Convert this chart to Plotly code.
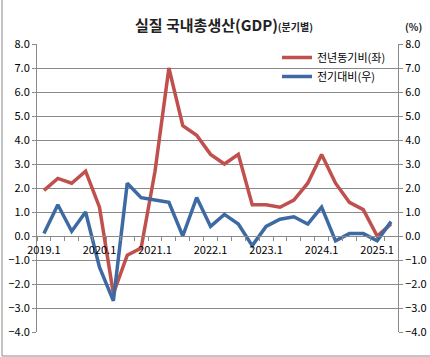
import plotly.graph_objects as go

quarters = ["2019.1", "2019.2", "2019.3", "2019.4",
            "2020.1", "2020.2", "2020.3", "2020.4",
            "2021.1", "2021.2", "2021.3", "2021.4",
            "2022.1", "2022.2", "2022.3", "2022.4",
            "2023.1", "2023.2", "2023.3", "2023.4",
            "2024.1", "2024.2", "2024.3", "2024.4",
            "2025.1", "2025.2"]
yoy = [1.9, 2.4, 2.2, 2.7,
       1.2, -2.4, -0.8, -0.5,
       2.7, 7.0, 4.6, 4.2,
       3.4, 3.0, 3.4, 1.3,
       1.3, 1.2, 1.5, 2.2,
       3.4, 2.2, 1.4, 1.1,
       0.0, 0.5]
qoq = [0.1, 1.3, 0.2, 1.0,
       -1.3, -2.7, 2.2, 1.6,
       1.5, 1.4, 0.0, 1.6,
       0.4, 0.9, 0.5, -0.4,
       0.4, 0.7, 0.8, 0.5,
       1.2, -0.2, 0.1, 0.1,
       -0.2, 0.6]
label_every = 4
y_ticks = [-4, -3, -2, -1, 0, 1, 2, 3, 4, 5, 6, 7, 8]

xs = list(range(len(quarters)))
tickvals = xs[::label_every]
ticktext = quarters[::label_every]

FONT = "Noto Sans CJK KR"
GRID = "#8a8a8a"
RED = "#C0504D"
BLUE = "#3D6AA2"

fig = go.Figure()
fig.add_trace(go.Scatter(x=xs, y=yoy, name="전년동기비(좌)", mode="lines",
                         line=dict(color=RED, width=3.5), yaxis="y"))
fig.add_trace(go.Scatter(x=xs, y=qoq, name="전기대비(우)", mode="lines",
                         line=dict(color=BLUE, width=3.5), yaxis="y2"))

ymin, ymax = y_ticks[0], y_ticks[-1]
zero_pos = (0 - ymin) / (ymax - ymin)

fig.update_layout(
    width=430, height=357,
    margin=dict(l=37, r=32, t=44, b=25, autoexpand=False),
    paper_bgcolor="white", plot_bgcolor="white",
    font=dict(family=FONT, size=11, color="black"),
    showlegend=True,
    legend=dict(x=(277 - 37) / 361, y=(332 - 43) / 288, xanchor="left", yanchor="top",
                bgcolor="rgba(0,0,0,0)", font=dict(size=11, family=FONT),
                tracegroupgap=0, itemwidth=30),
    xaxis=dict(range=[-0.5, len(quarters) - 0.5], anchor="free", position=zero_pos,
               tickmode="array", tickvals=tickvals, ticktext=ticktext,
               ticks="outside", ticklen=4, tickcolor="rgba(0,0,0,0)",
               showline=True, linecolor=GRID, linewidth=1, showgrid=False,
               zeroline=False, tickfont=dict(size=11),
               minor=dict(ticks="outside", tick0=-0.5, dtick=1, ticklen=4,
                          tickcolor=GRID, showgrid=False)),
    yaxis=dict(range=[ymin, ymax], tickmode="array", tickvals=y_ticks,
               tickformat=".1f", showgrid=True, gridcolor=GRID, gridwidth=1,
               zeroline=True, zerolinecolor=GRID, zerolinewidth=1,
               showline=True, linecolor=GRID, linewidth=1,
               ticks="outside", ticklen=4, tickcolor=GRID, tickfont=dict(size=11)),
    yaxis2=dict(range=[ymin, ymax], overlaying="y", side="right", tickmode="array",
                tickvals=y_ticks, tickformat=".1f", showgrid=False, zeroline=False,
                showline=True, linecolor=GRID, linewidth=1,
                ticks="outside", ticklen=4, tickcolor=GRID, tickfont=dict(size=11)),
)

fig.add_annotation(xref="paper", yref="paper", x=(224 - 37) / 361, y=(332 - 25) / 288,
                   xanchor="center", yanchor="middle", showarrow=False,
                   text="<b>실질 국내총생산(GDP)</b><b><span style='font-size:10px'>(분기별)</span></b>",
                   font=dict(size=15, family=FONT, color="#222222"))
fig.add_annotation(xref="paper", yref="paper", x=(413 - 37) / 361, y=(332 - 26) / 288,
                   xanchor="center", yanchor="middle", showarrow=False,
                   text="<b>(%)</b>", font=dict(size=10, family=FONT, color="#222222"))

# outer chart frame
fig.add_shape(type="rect", xref="paper", yref="paper",
              x0=(2 - 37) / 361, x1=(440 - 37) / 361,
              y0=(332 - 356) / 288, y1=(332 + 10) / 288 + 1,
              line=dict(color="#8a8a8a", width=1), fillcolor="rgba(0,0,0,0)", layer="below")

fig.write_html("out.html", config={"displayModeBar": False},
               post_script="document.body.style.margin='0';document.body.style.overflow='hidden';")
